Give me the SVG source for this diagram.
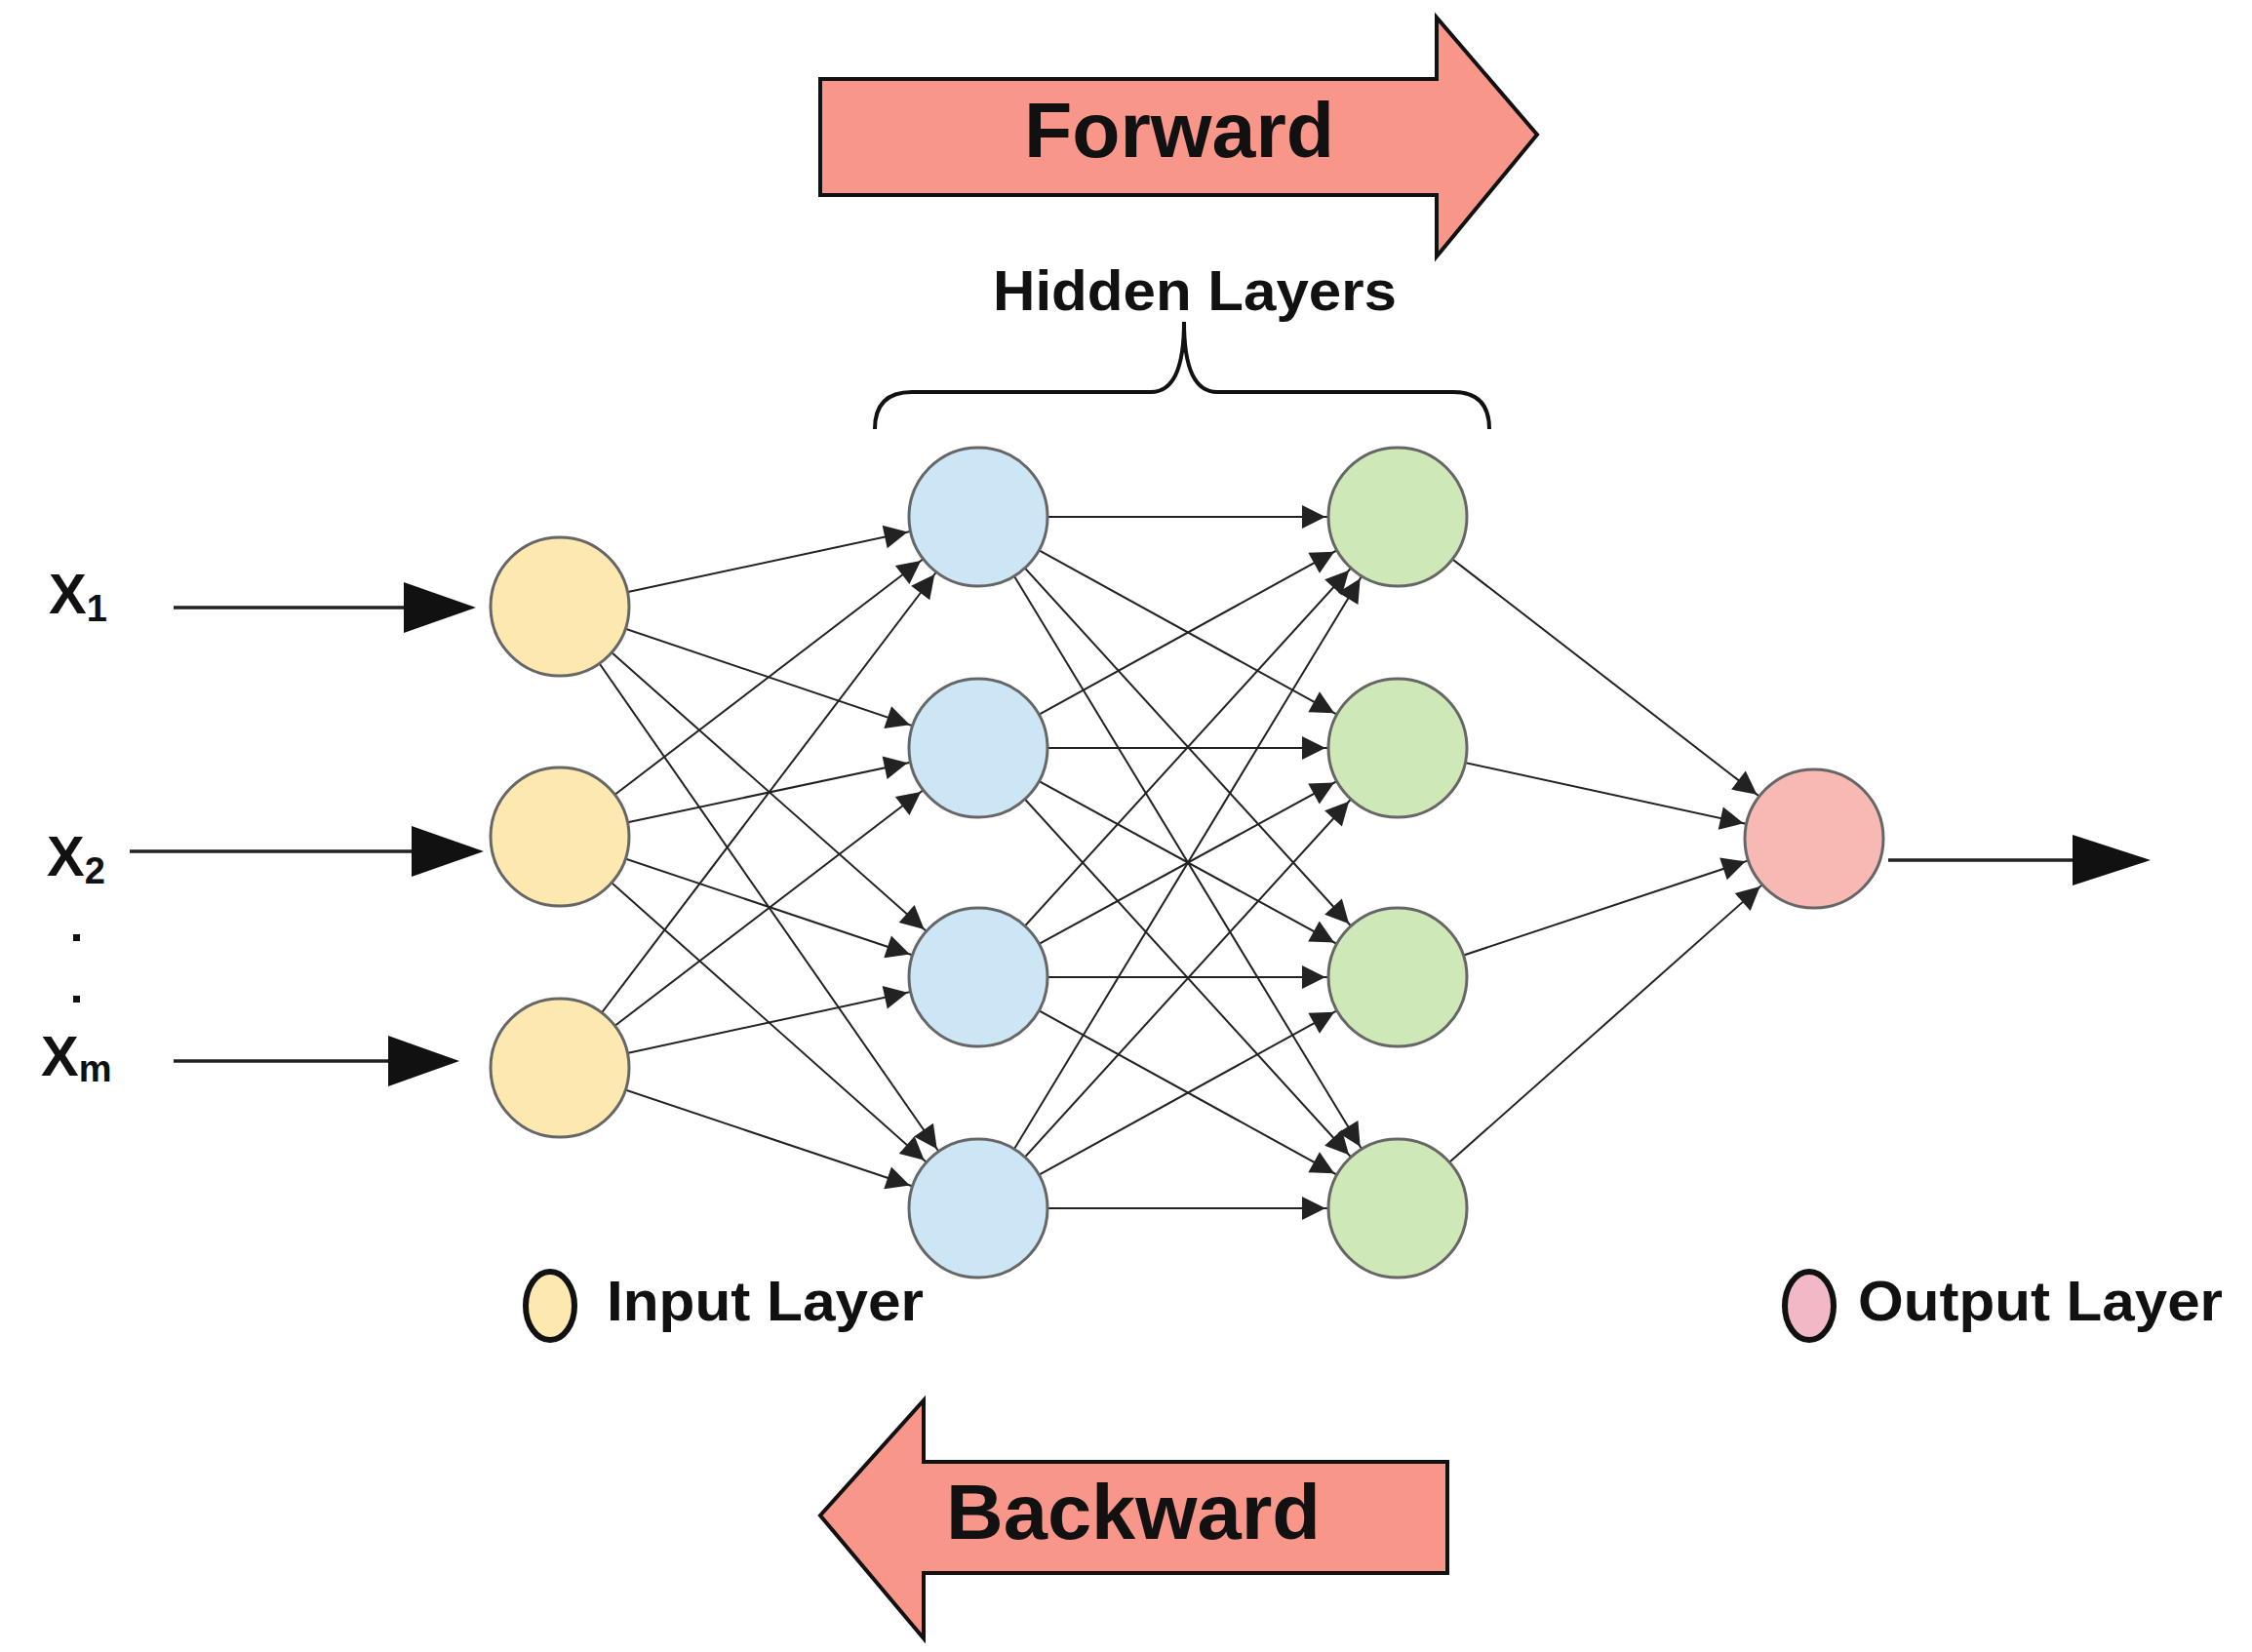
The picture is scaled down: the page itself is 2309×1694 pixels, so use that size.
<svg xmlns="http://www.w3.org/2000/svg" width="2309" height="1694" viewBox="0 0 2309 1694">
<style>
.t{font-family:"Liberation Sans",Arial,sans-serif;font-weight:bold;fill:#111}
.c{stroke:#555;stroke-width:2.5}
.e{stroke:#222;stroke-width:2;fill:none}
.big{fill:#f8968a;stroke:#111;stroke-width:4}
</style>
<defs>
<marker id="m" markerUnits="userSpaceOnUse" viewBox="0 0 200 30" markerWidth="200" markerHeight="30" refX="168" refY="15" orient="auto" overflow="visible">
<path d="M70,3 L94,15 L70,27 Z" fill="#222"/>
</marker>
</defs>
<rect width="2309" height="1694" fill="#fff"/>
<g id="forward"><polygon class="big" points="841,81 1473,81 1473,18 1576,138 1473,263 1473,200 841,200"/><text class="t" x="1209" y="161" font-size="80" text-anchor="middle" textLength="318" lengthAdjust="spacingAndGlyphs">Forward</text></g>
<g id="backward"><polygon class="big" points="1484,1499 947,1499 947,1436 841,1554 947,1680 947,1613 1484,1613"/><text class="t" x="1162" y="1578" font-size="80" text-anchor="middle" textLength="384" lengthAdjust="spacingAndGlyphs">Backward</text></g>
<g id="hidden-label"><text class="t" x="1225" y="318" font-size="58" text-anchor="middle" textLength="414" lengthAdjust="spacingAndGlyphs">Hidden Layers</text>
<path d="M897,440 Q897,402 935,402 L1180,402 Q1214,402 1214,330 Q1214,402 1248,402 L1490,402 Q1527,402 1527,440" fill="none" stroke="#111" stroke-width="4"/></g>
<g id="connectors" class="e">
<g marker-end="url(#m)">
<line x1="574" y1="622" x2="1003" y2="530"/><line x1="574" y1="622" x2="1003" y2="767"/><line x1="574" y1="622" x2="1003" y2="1002"/><line x1="574" y1="622" x2="1003" y2="1239"/>
<line x1="574" y1="858" x2="1003" y2="530"/><line x1="574" y1="858" x2="1003" y2="767"/><line x1="574" y1="858" x2="1003" y2="1002"/><line x1="574" y1="858" x2="1003" y2="1239"/>
<line x1="574" y1="1095" x2="1003" y2="530"/><line x1="574" y1="1095" x2="1003" y2="767"/><line x1="574" y1="1095" x2="1003" y2="1002"/><line x1="574" y1="1095" x2="1003" y2="1239"/>
<line x1="1003" y1="530" x2="1433" y2="530"/><line x1="1003" y1="530" x2="1433" y2="767"/><line x1="1003" y1="530" x2="1433" y2="1002"/><line x1="1003" y1="530" x2="1433" y2="1239"/>
<line x1="1003" y1="767" x2="1433" y2="530"/><line x1="1003" y1="767" x2="1433" y2="767"/><line x1="1003" y1="767" x2="1433" y2="1002"/><line x1="1003" y1="767" x2="1433" y2="1239"/>
<line x1="1003" y1="1002" x2="1433" y2="530"/><line x1="1003" y1="1002" x2="1433" y2="767"/><line x1="1003" y1="1002" x2="1433" y2="1002"/><line x1="1003" y1="1002" x2="1433" y2="1239"/>
<line x1="1003" y1="1239" x2="1433" y2="530"/><line x1="1003" y1="1239" x2="1433" y2="767"/><line x1="1003" y1="1239" x2="1433" y2="1002"/><line x1="1003" y1="1239" x2="1433" y2="1239"/>
<line x1="1433" y1="530" x2="1860" y2="860"/><line x1="1433" y1="767" x2="1860" y2="860"/><line x1="1433" y1="1002" x2="1860" y2="860"/><line x1="1433" y1="1239" x2="1860" y2="860"/>
</g>
<g stroke-width="3.5">
<line x1="178" y1="623" x2="420" y2="623"/><line x1="133" y1="873" x2="430" y2="873"/><line x1="178" y1="1088" x2="405" y2="1088"/><line x1="1936" y1="882" x2="2130" y2="882"/>
</g>
<g fill="#111" stroke="none">
<polygon points="414,597 488,623 414,649"/><polygon points="422,847 496,873 422,899"/><polygon points="398,1062 471,1088 398,1114"/><polygon points="2125,856 2205,882 2125,908"/>
</g>
</g>
<g id="input-nodes" fill="#fde8b0" stroke="#666" stroke-width="3">
<circle id="i1" cx="574" cy="622" r="71"/><circle id="i2" cx="574" cy="858" r="71"/><circle id="i3" cx="574" cy="1095" r="71"/>
</g>
<g id="hidden1" fill="#cde6f5" stroke="#666" stroke-width="3">
<circle id="h11" cx="1003" cy="530" r="71"/><circle id="h12" cx="1003" cy="767" r="71"/><circle id="h13" cx="1003" cy="1002" r="71"/><circle id="h14" cx="1003" cy="1239" r="71"/>
</g>
<g id="hidden2" fill="#cfe8b8" stroke="#666" stroke-width="3">
<circle id="h21" cx="1433" cy="530" r="71"/><circle id="h22" cx="1433" cy="767" r="71"/><circle id="h23" cx="1433" cy="1002" r="71"/><circle id="h24" cx="1433" cy="1239" r="71"/>
</g>
<g id="output"><circle cx="1860" cy="860" r="71" fill="#f8b9b5" stroke="#666" stroke-width="3"/></g>
<g id="labels" class="t" font-size="58" font-weight="normal">
<text x="50" y="629">X<tspan font-size="38" dy="8">1</tspan></text>
<text x="48" y="898">X<tspan font-size="38" dy="8">2</tspan></text>
<rect x="75" y="958" width="7" height="7" fill="#111"/><rect x="75" y="1021" width="7" height="7" fill="#111"/>
<text x="42" y="1103">X<tspan font-size="38" dy="6">m</tspan></text>
</g>
<g id="legend-input"><ellipse cx="564" cy="1339" rx="25" ry="35" fill="#fde8b0" stroke="#111" stroke-width="6"/><text class="t" x="622" y="1354" font-size="58" textLength="325" lengthAdjust="spacingAndGlyphs">Input Layer</text></g>
<g id="legend-output"><ellipse cx="1855" cy="1339" rx="25" ry="35" fill="#f2b8c6" stroke="#111" stroke-width="6"/><text class="t" x="1905" y="1354" font-size="58" textLength="374" lengthAdjust="spacingAndGlyphs">Output Layer</text></g>
</svg>
